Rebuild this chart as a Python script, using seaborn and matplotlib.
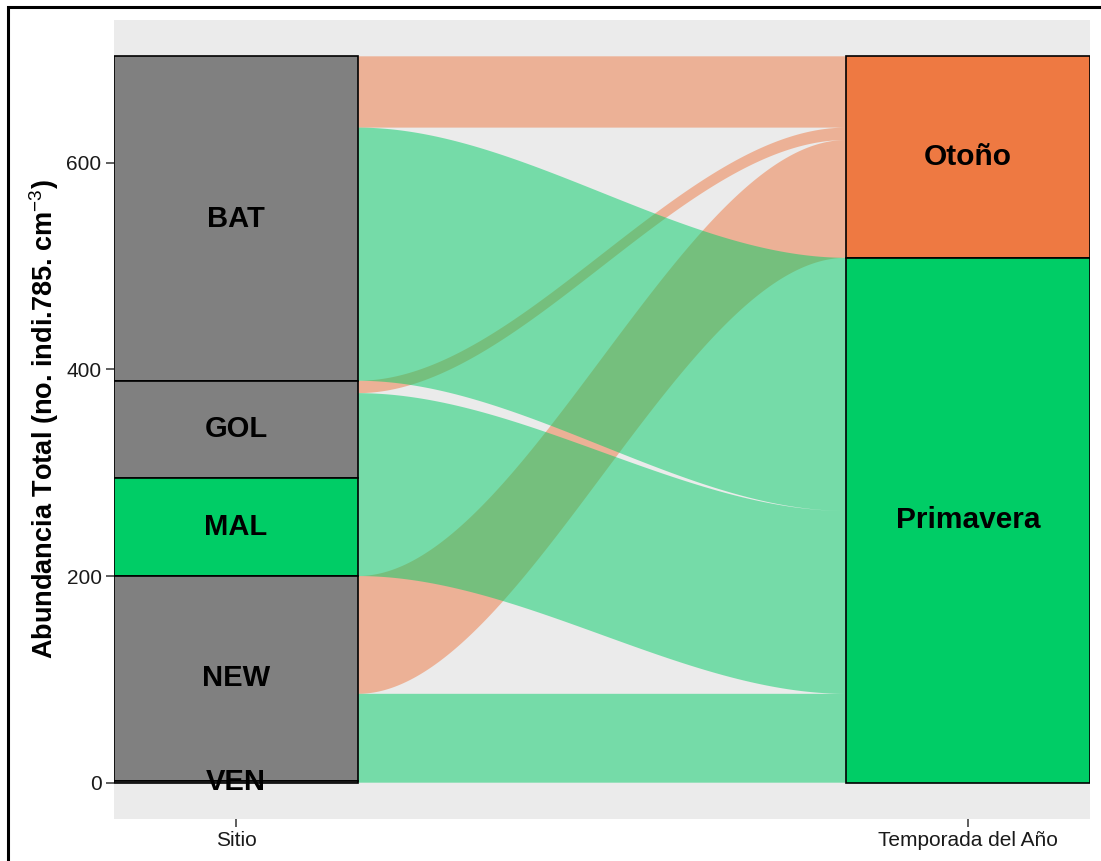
import numpy as np
import pandas as pd
import matplotlib
matplotlib.use("Agg")
import matplotlib.pyplot as plt
from matplotlib.path import Path
from matplotlib.patches import PathPatch
import seaborn as sns

# -------------------------------
# Data (abundance per site and season)
# -------------------------------
sitios = ["BAT", "GOL", "MAL", "NEW", "VEN"]
temporadas = ["Otoño", "Primavera"]
abund_otono = [69, 12, 0, 114, 0]
abund_primavera = [245, 82, 95, 84, 2]
axis_labels = ["Sitio", "Temporada del Año"]

# colours
GREY = "#808080"
GREEN = "#00CD66"
ORANGE = "#EE7942"
sitio_fill = {"BAT": GREY, "GOL": GREY, "MAL": GREEN, "NEW": GREY, "VEN": GREY}
temp_fill = {"Otoño": ORANGE, "Primavera": GREEN}

df = pd.DataFrame({
    "Sitio": np.repeat(sitios, 2),
    "Temporada": temporadas * len(sitios),
    "Abundancia": [v for pair in zip(abund_otono, abund_primavera) for v in pair],
})
total = df["Abundancia"].sum()

# -------------------------------
# Theme
# -------------------------------
sns.set_theme(style="dark", rc={
    "axes.facecolor": "#EBEBEB",
    "figure.facecolor": "white",
    "axes.grid": False,
})
plt.rcParams["font.family"] = ["Liberation Sans", "DejaVu Sans"]
plt.rcParams["mathtext.fontset"] = "custom"
plt.rcParams["mathtext.rm"] = "Liberation Sans"
plt.rcParams["mathtext.bf"] = "Liberation Sans:bold"

fig = plt.figure(figsize=(11.01, 8.61), dpi=100)
ax = fig.add_axes([114 / 1101, 1 - 819 / 861, (1090 - 114) / 1101, (819 - 20) / 861])

W = 1 / 3  # stratum width


def stack_top(levels, values):
    # first level stacked on top (ggalluvial default)
    tops = {}
    cur = sum(values)
    for lev, v in zip(levels, values):
        tops[lev] = cur
        cur -= v
    return tops


def value(s, t):
    return df.loc[(df.Sitio == s) & (df.Temporada == t), "Abundancia"].iloc[0]


sitio_tot = df.groupby("Sitio", sort=False)["Abundancia"].sum()
temp_tot = df.groupby("Temporada", sort=False)["Abundancia"].sum()
sitio_top = stack_top(sitios, sitio_tot[sitios].values)
temp_top = stack_top(temporadas, temp_tot[temporadas].values)

# -------------------------------
# Alluvia (flows): top edge at each axis
# -------------------------------
y_left = {}
off = {s: 0 for s in sitios}
for s in sitios:
    for t in temporadas:
        y_left[(s, t)] = sitio_top[s] - off[s]
        off[s] += value(s, t)

y_right = {}
off = {t: 0 for t in temporadas}
for t in temporadas:
    for s in sitios:
        y_right[(s, t)] = temp_top[t] - off[t]
        off[t] += value(s, t)

x0, x1 = 1 + W / 2, 2 - W / 2
tt = np.linspace(0, 1, 300)
smooth = 3 * tt ** 2 - 2 * tt ** 3
xs = x0 + (x1 - x0) * tt
for t in temporadas:  # Otoño first, Primavera drawn on top
    paths = []
    for s in sitios:
        v = value(s, t)
        if v == 0:
            continue
        y0, y1 = y_left[(s, t)], y_right[(s, t)]
        upper = y0 + (y1 - y0) * smooth
        verts = np.concatenate([np.column_stack([xs, upper]),
                                np.column_stack([xs[::-1], (upper - v)[::-1]])])
        paths.append(Path(verts, closed=False))
    # one compound path per season so touching flows show no seam
    ax.add_patch(PathPatch(Path.make_compound_path(*paths), facecolor=temp_fill[t],
                           alpha=0.5, lw=0, zorder=2))

# -------------------------------
# Strata
# -------------------------------
for s in sitios:
    h = sitio_tot[s]
    ax.bar(1, h, bottom=sitio_top[s] - h, width=W, color=sitio_fill[s],
           edgecolor="black", linewidth=1.2, zorder=3)
    ax.text(1, sitio_top[s] - h / 2, s, ha="center", va="center",
            fontsize=21, fontweight="bold", color="black", zorder=4)
for t in temporadas:
    h = temp_tot[t]
    ax.bar(2, h, bottom=temp_top[t] - h, width=W, color=temp_fill[t],
           edgecolor="black", linewidth=1.2, zorder=3)
    ax.text(2, temp_top[t] - h / 2, t, ha="center", va="center",
            fontsize=21.5, fontweight="bold", color="black", zorder=4)

# -------------------------------
# Axes
# -------------------------------
ax.set_xlim(1 - W / 2, 2 + W / 2)
ax.set_ylim(-0.05 * total, 1.05 * total)
ax.set_xticks([1, 2])
ax.set_xticklabels(axis_labels)
ax.set_yticks([0, 200, 400, 600])
ax.tick_params(axis="both", which="both", bottom=True, left=True, length=6,
               width=1.1, color="#333333", labelsize=15, labelcolor="#1a1a1a", pad=3)
for sp in ax.spines.values():
    sp.set_visible(False)
ax.set_ylabel(r"Abundancia Total (no. indi.785. cm$^{-3}$)",
              fontsize=19.5, fontweight="bold", color="black", labelpad=4)

# black frame round the figure (right and bottom edges cut off)
fig.add_artist(plt.Rectangle((8 / 1101, -0.05), 1.2, 1 - 7 / 861 + 0.05,
                             transform=fig.transFigure, fill=False,
                             edgecolor="black", linewidth=2.2))

fig.savefig("out.png", dpi=100)
